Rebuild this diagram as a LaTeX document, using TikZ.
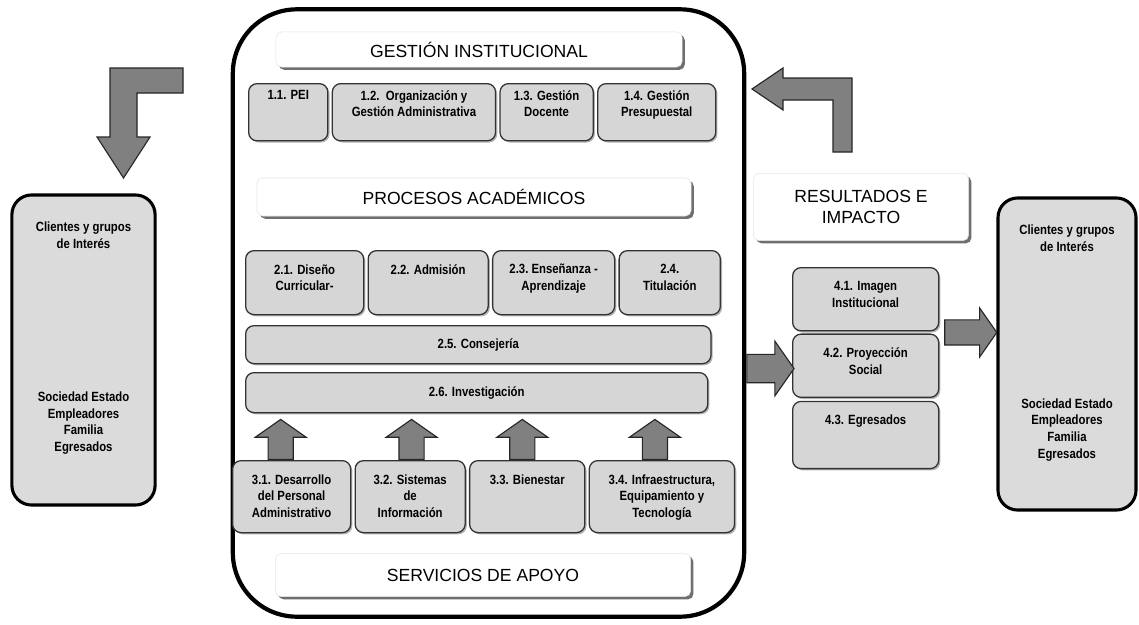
\documentclass[tikz,border=0pt]{standalone}
\usepackage{fontspec}
\setmainfont{Liberation Sans}
\newfontfamily\boxfont[FakeStretch=0.85]{Liberation Sans}
\usetikzlibrary{positioning,shapes.arrows,shadows,calc}

\begin{document}
\begin{tikzpicture}[
        x=0.025cm, y=-0.025cm,
        node distance=0.08cm,
        item/.style={
            draw=black!80,
            fill=black!16,
            line width=0.9pt,
            rounded corners=6pt,
            inner sep=0pt,
            drop shadow={shadow xshift=1.2pt, shadow yshift=-1.2pt, fill=black!60}
        },
        lbl/.style={
            font=\boxfont\bfseries\fontsize{9.5}{12}\selectfont,
            align=center,
            inner sep=0pt
        },
        toptext/.style={label={[lbl, anchor=north, yshift=-10pt]north:{#1}}},
        hitext/.style={label={[lbl, anchor=north, yshift=-5pt]north:{#1}}},
        header/.style={
            draw=black!10,
            fill=white,
            rounded corners=4pt,
            align=center,
            inner sep=0pt,
            font=\fontsize{12.5}{15.5}\selectfont,
            drop shadow={shadow xshift=2pt, shadow yshift=-2pt, fill=black!70, opacity=0.8}
        },
        client/.style={
            draw=black,
            fill=black!14,
            line width=2.2pt,
            rounded corners=14pt
        },
        blockarrow/.style={
            single arrow,
            draw=black!85,
            fill=black!50,
            line width=0.8pt,
            inner sep=0pt,
            text depth=0pt,
            single arrow tip angle=110
        },
        elbow/.style={
            draw=black!85,
            fill=black!50,
            line width=0.8pt
        }
    ]

        \useasboundingbox (0,0) rectangle (1139,625);
        \fill[white] (0,0) rectangle (1139,625);

        % main frame
        \node[draw, line width=3pt, rounded corners=1.6cm,
            minimum width=12.78cm, minimum height=15.18cm] (core) at (488.5,313) {};

        % headers
        \node[header, minimum width=10.15cm, minimum height=0.88cm] (gestion) at (479,49.5) {GESTIÓN INSTITUCIONAL};
        \node[header, minimum width=10.85cm, minimum height=0.95cm] (procesos) at (474,197) {PROCESOS ACADÉMICOS};
        \node[header, minimum width=10.38cm, minimum height=1.08cm] (servicios) at (483,575) {SERVICIOS DE APOYO};
        \node[header, minimum width=5.38cm, minimum height=1.68cm] (resultados) at (861,207) {RESULTADOS E\\IMPACTO};

        % row 1
        \node[item, hitext={1.1. PEI}, minimum width=1.98cm, minimum height=1.43cm, anchor=north west] (pei) at (248,83) {};
        \node[item, hitext={1.2.\ \ Organización y\\Gestión Administrativa}, minimum width=4.08cm, minimum height=1.43cm, right=of pei] (org) {};
        \node[item, hitext={1.3. Gestión\\Docente}, minimum width=2.33cm, minimum height=1.43cm, right=of org] (doc) {};
        \node[item, hitext={1.4. Gestión\\Presupuestal}, minimum width=2.95cm, minimum height=1.43cm, right=of doc] (pre) {};

        % row 2
        \node[item, toptext={2.1. Diseño\\Curricular-}, minimum width=2.95cm, minimum height=1.6cm, anchor=north west] (dis) at (245,250) {};
        \node[item, toptext={2.2. Admisión}, minimum width=3.0cm, minimum height=1.6cm, right=of dis] (adm) {};
        \node[item, toptext={2.3.\ Enseñanza -\\Aprendizaje}, minimum width=3.05cm, minimum height=1.6cm, right=of adm] (ens) {};
        \node[item, toptext={2.4.\\Titulación}, minimum width=2.53cm, minimum height=1.6cm, right=of ens] (tit) {};
        \node[item, lbl, minimum width=11.63cm, minimum height=0.95cm, anchor=north west] (con) at (245,325) {2.5. Consejería};
        \node[item, lbl, minimum width=11.55cm, minimum height=1.0cm, anchor=north west] (inv) at (245,372) {2.6. Investigación};

        % row 3
        \node[item, toptext={3.1. Desarrollo\\del Personal\\Administrativo}, minimum width=2.95cm, minimum height=1.8cm, anchor=north west] (sup1) at (232,460) {};
        \node[item, toptext={3.2. Sistemas\\de\\Información}, minimum width=2.75cm, minimum height=1.8cm, right=of sup1] (sup2) {};
        \node[item, toptext={3.3. Bienestar}, minimum width=2.88cm, minimum height=1.8cm, right=of sup2] (sup3) {};
        \node[item, toptext={3.4. Infraestructura,\\Equipamiento y\\Tecnología}, minimum width=3.63cm, minimum height=1.8cm, right=of sup3] (sup4) {};

        % results
        \node[item, toptext={4.1. Imagen\\Institucional}, minimum width=3.65cm, minimum height=1.58cm, anchor=north west] (img) at (792,267) {};
        \node[item, toptext={4.2. Proyección\\Social}, minimum width=3.65cm, minimum height=1.58cm, below=0.05cm of img] (pro) {};
        \node[item, toptext={4.3. Egresados}, minimum width=3.65cm, minimum height=1.68cm, below=0.07cm of pro] (egr) {};

        % clients
        \node[client, minimum width=3.58cm, minimum height=7.75cm,
            label={[lbl, anchor=north, yshift=-20pt]north:{Clientes y grupos\\de Interés}},
            label={[lbl, yshift=-52pt]center:{Sociedad Estado\\Empleadores\\Familia\\Egresados}}] (cli) at (83.5,350) {};
        \node[client, minimum width=3.45cm, minimum height=7.8cm,
            label={[lbl, anchor=north, yshift=-20pt]north:{Clientes y grupos\\de Interés}},
            label={[lbl, yshift=-54pt]center:{Sociedad Estado\\Empleadores\\Familia\\Egresados}}] (clo) at (1067,354) {};

        % support arrows
        \node[blockarrow, rotate=90, text height=0.6cm, single arrow head extend=0.32cm, minimum height=1cm, anchor=tail] (up1) at ([xshift=-7.8pt]sup1.north) {};
        \node[blockarrow, rotate=90, text height=0.6cm, single arrow head extend=0.32cm, minimum height=1cm, anchor=tail] (up2) at ([xshift=1pt]sup2.north) {};
        \node[blockarrow, rotate=90, text height=0.6cm, single arrow head extend=0.32cm, minimum height=1cm, anchor=tail] (up3) at ([xshift=-3.5pt]sup3.north) {};
        \node[blockarrow, rotate=90, text height=0.6cm, single arrow head extend=0.32cm, minimum height=1cm, anchor=tail] (up4) at ([xshift=-5pt]sup4.north) {};

        % output arrows
        \node[blockarrow, text height=0.68cm, single arrow head extend=0.33cm, minimum height=1.18cm, anchor=tail] (toout) at ([yshift=-2pt]core.east |- pro.west) {};
        \node[blockarrow, text height=0.6cm, single arrow head extend=0.3cm, minimum height=1.3cm, anchor=tail] (tocli) at ([xshift=3.5pt]$(img.south east)!0.5!(pro.north east)$) {};

        % feedback arrows
        \path[elbow] (110,68) -- (183,68) -- (183,93) -- (137,93) -- (137,137) -- (150,137)
            -- (123.5,178) -- (97,137) -- (110,137) -- cycle;
        \path[elbow] (852,78) -- (852,152) -- (833,152) -- (833,100) -- (783,100) -- (783,110)
            -- (752,89) -- (783,68) -- (783,78) -- cycle;

    \end{tikzpicture}
\end{document}
